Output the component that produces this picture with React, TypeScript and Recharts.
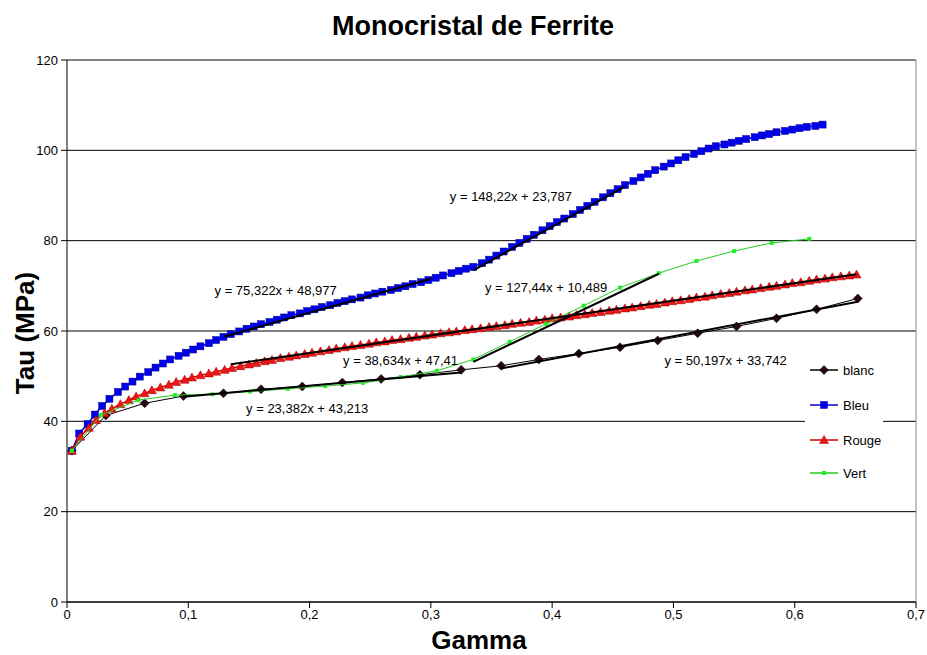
import {
  ScatterChart,
  Scatter,
  XAxis,
  YAxis,
  CartesianGrid,
  ReferenceLine,
  ReferenceDot,
} from 'recharts';

const FONT = '"Liberation Sans", Arial, sans-serif';

// blanc (diamonds)
const blancGamma = [
  0.004, 0.032, 0.064, 0.096, 0.129, 0.16, 0.194, 0.227, 0.259, 0.291, 0.325,
  0.358, 0.389, 0.422, 0.456, 0.487, 0.52, 0.552, 0.585, 0.618, 0.652,
];
const blancTau = [
  33.5, 41.3, 44.0, 45.6, 46.2, 47.1, 47.7, 48.6, 49.4, 50.3, 51.4, 52.3, 53.7,
  55.0, 56.4, 57.9, 59.5, 61.0, 62.8, 64.8, 67.2,
];

// Bleu (squares)
const bleuGamma = [
  0.004, 0.01, 0.017, 0.023, 0.029, 0.035, 0.042, 0.048, 0.054, 0.06,
  0.067, 0.073, 0.079, 0.085, 0.092, 0.098, 0.104, 0.11, 0.117, 0.123,
  0.129, 0.135, 0.142, 0.148, 0.154, 0.16, 0.167, 0.173, 0.179, 0.185,
  0.192, 0.198, 0.204, 0.21, 0.217, 0.223, 0.229, 0.235, 0.242, 0.248,
  0.254, 0.26, 0.267, 0.273, 0.279, 0.285, 0.292, 0.298, 0.304, 0.31,
  0.317, 0.323, 0.329, 0.335, 0.342, 0.348, 0.354, 0.36, 0.367, 0.373,
  0.379, 0.385, 0.392, 0.398, 0.404, 0.41, 0.417, 0.423, 0.429, 0.435,
  0.442, 0.448, 0.454, 0.46, 0.467, 0.473, 0.479, 0.485, 0.492, 0.498,
  0.504, 0.51, 0.517, 0.523, 0.529, 0.535, 0.542, 0.548, 0.554, 0.56,
  0.567, 0.573, 0.579, 0.585, 0.592, 0.598, 0.604, 0.61, 0.617, 0.623,
];
const bleuTau = [
  33.5, 37.3, 39.4, 41.5, 43.4, 45.0, 46.5, 47.7, 48.8, 49.9,
  50.9, 51.9, 52.8, 53.7, 54.5, 55.2, 55.9, 56.6, 57.3, 58.0,
  58.7, 59.3, 59.9, 60.5, 61.0, 61.5, 62.0, 62.5, 63.0, 63.5,
  63.9, 64.4, 64.8, 65.3, 65.7, 66.2, 66.6, 67.0, 67.4, 67.9,
  68.3, 68.7, 69.1, 69.5, 69.9, 70.4, 70.8, 71.3, 71.8, 72.3,
  72.8, 73.3, 73.8, 74.2, 75.0, 75.8, 76.7, 77.6, 78.6, 79.5,
  80.4, 81.3, 82.3, 83.2, 84.1, 84.9, 85.9, 86.8, 87.7, 88.6,
  89.6, 90.5, 91.4, 92.3, 93.2, 94.0, 94.8, 95.6, 96.4, 97.1,
  97.8, 98.5, 99.2, 99.8, 100.4, 100.9, 101.3, 101.7, 102.1, 102.5,
  102.9, 103.3, 103.6, 104.0, 104.3, 104.6, 104.9, 105.2, 105.4, 105.7,
];

// Rouge (triangles)
const rougeGamma = [
  0.004, 0.011, 0.018, 0.024, 0.031, 0.037, 0.044, 0.051, 0.057, 0.064,
  0.07, 0.077, 0.084, 0.09, 0.097, 0.103, 0.11, 0.117, 0.123, 0.13,
  0.136, 0.143, 0.15, 0.156, 0.163, 0.169, 0.176, 0.183, 0.189, 0.196,
  0.202, 0.209, 0.216, 0.222, 0.229, 0.235, 0.242, 0.249, 0.255, 0.262,
  0.268, 0.275, 0.282, 0.288, 0.295, 0.301, 0.308, 0.315, 0.321, 0.328,
  0.334, 0.341, 0.348, 0.354, 0.361, 0.367, 0.374, 0.381, 0.387, 0.394,
  0.4, 0.407, 0.414, 0.42, 0.427, 0.433, 0.44, 0.447, 0.453, 0.46,
  0.466, 0.473, 0.48, 0.486, 0.493, 0.499, 0.506, 0.513, 0.519, 0.526,
  0.532, 0.539, 0.546, 0.552, 0.559, 0.565, 0.572, 0.579, 0.585, 0.592,
  0.598, 0.605, 0.612, 0.618, 0.625, 0.631, 0.638, 0.645, 0.651,
];
const rougeTau = [
  33.5, 36.6, 38.6, 40.3, 41.8, 42.8, 43.8, 44.7, 45.5, 46.2,
  46.9, 47.5, 48.1, 48.7, 49.2, 49.7, 50.2, 50.6, 51.0, 51.4,
  51.8, 52.2, 52.6, 52.9, 53.3, 53.6, 54.0, 54.3, 54.6, 54.9,
  55.2, 55.5, 55.8, 56.1, 56.4, 56.7, 56.9, 57.2, 57.5, 57.7,
  58.0, 58.2, 58.5, 58.7, 59.0, 59.2, 59.5, 59.7, 59.9, 60.2,
  60.4, 60.6, 60.9, 61.1, 61.3, 61.6, 61.8, 62.0, 62.3, 62.5,
  62.8, 63.0, 63.2, 63.5, 63.7, 64.0, 64.2, 64.5, 64.7, 65.0,
  65.2, 65.5, 65.8, 66.0, 66.3, 66.6, 66.8, 67.1, 67.4, 67.6,
  67.9, 68.2, 68.4, 68.7, 69.0, 69.2, 69.5, 69.8, 70.0, 70.3,
  70.6, 70.8, 71.1, 71.4, 71.6, 71.9, 72.1, 72.3, 72.5,
];

// Vert (small dots)
const vertGamma = [
  0.004, 0.028, 0.059, 0.089, 0.12, 0.151, 0.182, 0.213, 0.244, 0.275, 0.305,
  0.335, 0.365, 0.395, 0.426, 0.456, 0.488, 0.519, 0.55, 0.581, 0.612,
];
const vertTau = [
  33.5, 41.4, 44.7, 45.8, 46.0, 46.6, 47.2, 47.8, 48.5, 49.8, 51.2, 53.7, 57.6,
  61.6, 65.6, 69.6, 72.8, 75.5, 77.7, 79.5, 80.4,
];

// linear trendlines shown on the chart
const trendLabels = [
  'y = 23,382x + 43,213',
  'y = 50,197x + 33,742',
  'y = 38,634x + 47,41',
  'y = 75,322x + 48,977',
  'y = 148,22x + 23,787',
  'y = 127,44x + 10,489',
];
const trendSlopes = [23.382, 50.197, 38.634, 75.322, 148.22, 127.44];
const trendIntercepts = [43.213, 33.742, 47.41, 48.977, 23.787, 10.489];
const trendFrom = [0.096, 0.358, 0.135, 0.13, 0.335, 0.335];
const trendTo = [0.325, 0.652, 0.651, 0.3, 0.46, 0.488];

const xTicks = [0, 0.1, 0.2, 0.3, 0.4, 0.5, 0.6, 0.7];
const yTicks = [0, 20, 40, 60, 80, 100, 120];
const legendNames = ['blanc', 'Bleu', 'Rouge', 'Vert'];

// where the equation texts sit (data coords)
const labelPos = [
  [0.198, 42.9],
  [0.543, 53.6],
  [0.275, 53.4],
  [0.172, 69.1],
  [0.366, 89.8],
  [0.395, 69.6],
];

const pts = (gs: number[], ts: number[]) => gs.map((g, i) => ({ g, t: ts[i] }));

const blanc = pts(blancGamma, blancTau);
const bleu = pts(bleuGamma, bleuTau);
const rouge = pts(rougeGamma, rougeTau);
const vert = pts(vertGamma, vertTau);

const trends = trendSlopes.map((a, i) => [
  { g: trendFrom[i], t: a * trendFrom[i] + trendIntercepts[i] },
  { g: trendTo[i], t: a * trendTo[i] + trendIntercepts[i] },
]);

const Diamond = ({ cx, cy }: any) => (
  <polygon
    points={`${cx},${cy - 4.5} ${cx + 4.5},${cy} ${cx},${cy + 4.5} ${cx - 4.5},${cy}`}
    fill="#2a0810"
    stroke="#000"
    strokeWidth={0.5}
  />
);
const Square = ({ cx, cy }: any) => (
  <rect x={cx - 3.5} y={cy - 3.5} width={7} height={7} fill="#0000ee" stroke="#000090" strokeWidth={0.5} />
);
const Triangle = ({ cx, cy }: any) => (
  <polygon
    points={`${cx},${cy - 4.5} ${cx + 4.5},${cy + 3.5} ${cx - 4.5},${cy + 3.5}`}
    fill="#ee1515"
    stroke="#a00000"
    strokeWidth={0.5}
  />
);
const Dot = ({ cx, cy }: any) => (
  <rect x={cx - 2} y={cy - 2} width={4} height={4} fill="#22ee22" />
);
const NoShape = () => <g />;

const legendColors = ['#000000', '#0000cc', '#dd0000', '#22cc22'];
const legendShapes = [Diamond, Square, Triangle, Dot];

const fmtX = (v: number) => (v === 0 ? '0' : String(v).replace('.', ','));

export default function App() {
  return (
    <div style={{ position: 'absolute', left: 0, top: 0, width: 927, height: 655, background: '#fff' }}>
      <ScatterChart width={927} height={655} margin={{ top: 60, right: 11, bottom: 23, left: 10 }}>
        <CartesianGrid vertical={false} stroke="#000" strokeOpacity={1} />
        <XAxis
          type="number"
          dataKey="g"
          domain={[0, 0.7]}
          ticks={xTicks}
          tickFormatter={fmtX}
          height={30}
          stroke="#000"
          tickSize={6}
          tick={{ fill: '#000', fontSize: 13, fontFamily: FONT }}
          allowDataOverflow
        />
        <YAxis
          type="number"
          dataKey="t"
          domain={[0, 120]}
          ticks={yTicks}
          width={57}
          stroke="#000"
          tickSize={6}
          tickMargin={3}
          tick={{ fill: '#000', fontSize: 13, fontFamily: FONT }}
          allowDataOverflow
        />
        <ReferenceLine x={0.7} stroke="#888" />
        <ReferenceLine y={120} stroke="#888" />
        <Scatter name="blanc" data={blanc} line={{ stroke: '#000', strokeWidth: 1 }} lineType="joint" shape={Diamond} isAnimationActive={false} />
        <Scatter name="Bleu" data={bleu} line={{ stroke: '#0000cc', strokeWidth: 1.5 }} lineType="joint" shape={Square} isAnimationActive={false} />
        <Scatter name="Rouge" data={rouge} line={{ stroke: '#dd0000', strokeWidth: 1.5 }} lineType="joint" shape={Triangle} isAnimationActive={false} />
        <Scatter name="Vert" data={vert} line={{ stroke: '#22cc22', strokeWidth: 1 }} lineType="joint" shape={Dot} isAnimationActive={false} />
        {trends.map((d, i) => (
          <Scatter
            key={trendLabels[i]}
            data={d}
            line={{ stroke: '#000', strokeWidth: 2 }}
            lineType="joint"
            shape={NoShape}
            legendType="none"
            isAnimationActive={false}
          />
        ))}
        {trendLabels.map((txt, i) => (
          <ReferenceDot
            key={txt}
            x={labelPos[i][0]}
            y={labelPos[i][1]}
            r={1}
            fill="none"
            stroke="none"
            label={{ value: txt, position: 'center', fill: '#000', fontSize: 13, fontFamily: FONT }}
          />
        ))}
      </ScatterChart>
      <svg
        width={927}
        height={655}
        style={{ position: 'absolute', left: 0, top: 0, pointerEvents: 'none' }}
        fontFamily={FONT}
      >
        <text x={473} y={35} textAnchor="middle" fontSize={27} fontWeight="bold" fill="#000">
          Monocristal de Ferrite
        </text>
        <text x={479} y={649} textAnchor="middle" fontSize={26} fontWeight="bold" fill="#000">
          Gamma
        </text>
        <text
          x={0}
          y={0}
          transform="translate(34,333) rotate(-90)"
          textAnchor="middle"
          fontSize={26}
          fontWeight="bold"
          fill="#000"
        >
          Tau (MPa)
        </text>
        <g transform="translate(805,352)">
          <rect x={0} y={0} width={78} height={138} fill="#fff" />
          {legendNames.map((n, i) => {
            const Shape = legendShapes[i];
            const y = [18, 53, 88, 121][i];
            return (
              <g key={n}>
                <line x1={5} x2={33} y1={y} y2={y} stroke={legendColors[i]} strokeWidth={1.5} />
                <Shape cx={19} cy={y} />
                <text x={38} y={y + 5} fontSize={13} fill="#000">
                  {n}
                </text>
              </g>
            );
          })}
        </g>
      </svg>
    </div>
  );
}
